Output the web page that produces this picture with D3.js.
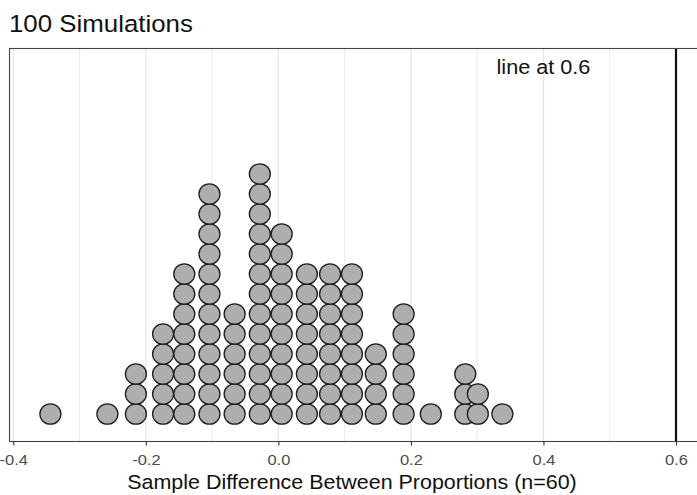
<!DOCTYPE html>
<html>
<head>
<meta charset="utf-8">
<script src="https://cdn.jsdelivr.net/npm/d3@7"></script>
<style>
  html, body { margin: 0; padding: 0; background: #fff; }
  svg { display: block; font-family: "Liberation Sans", Arial, Helvetica, sans-serif; }
</style>
</head>
<body>
<svg id="chart" width="697" height="495"></svg>
<script>
// ---- data ----
const titleText = "100 Simulations";
const xAxisTitle = "Sample Difference Between Proportions (n=60)";
const annotationText = "line at 0.6";
const annotationX = 0.4;
const refLineX = 0.6;
const dotX      = [-0.344, -0.258, -0.215, -0.174, -0.142, -0.104, -0.066, -0.028, 0.005, 0.043, 0.078, 0.111, 0.147, 0.189, 0.230, 0.282, 0.301, 0.338];
const dotCounts = [1, 1, 3, 5, 8, 12, 6, 13, 10, 8, 8, 8, 4, 6, 1, 3, 2, 1];
const xTicks = [-0.4, -0.2, 0.0, 0.2, 0.4, 0.6];
const xTickLabels = ["-0.4", "-0.2", "0.0", "0.2", "0.4", "0.6"];
const xMinorGrid = [-0.3, -0.1, 0.1, 0.3, 0.5, 0.7];

// ---- layout ----
const svg = d3.select("#chart");
const panel = { left: 9.5, top: 48.5, right: 706, bottom: 441.5 };
const sx = 1.1; // horizontal text stretch seen in reference

const x = d3.scaleLinear().domain([-0.4, 0.6]).range([13.3, 676]);
const y = d3.scaleLinear().domain([0, 13]).range([424, 164]);

// panel background
svg.append("rect")
  .attr("x", panel.left).attr("y", panel.top)
  .attr("width", panel.right - panel.left).attr("height", panel.bottom - panel.top)
  .attr("fill", "#fff");

// grid
const g = svg.append("g");
g.selectAll("line.minor").data(xMinorGrid).enter().append("line")
  .attr("x1", d => x(d)).attr("x2", d => x(d))
  .attr("y1", panel.top).attr("y2", panel.bottom)
  .attr("stroke", "#ebebeb").attr("stroke-width", 1);
g.selectAll("line.major").data(xTicks).enter().append("line")
  .attr("x1", d => x(d)).attr("x2", d => x(d))
  .attr("y1", panel.top).attr("y2", panel.bottom)
  .attr("stroke", "#e6e6e6").attr("stroke-width", 1.3);

// dots
const dots = [];
dotX.forEach((v, i) => {
  for (let k = 0; k < dotCounts[i]; k++) dots.push({ x: v, k: k });
});
svg.append("g").selectAll("ellipse").data(dots).enter().append("ellipse")
  .attr("cx", d => x(d.x))
  .attr("cy", d => y(d.k + 0.5))
  .attr("rx", 10.5).attr("ry", 10.2)
  .attr("fill", "#aeaeb1")
  .attr("stroke", "#1e1e1e")
  .attr("stroke-width", 1.3);

// reference line
svg.append("line")
  .attr("x1", x(refLineX)).attr("x2", x(refLineX))
  .attr("y1", panel.top).attr("y2", panel.bottom)
  .attr("stroke", "#111").attr("stroke-width", 2.2);

// annotation
svg.append("text")
  .attr("transform", `translate(${x(annotationX)},74.3) scale(${sx},1)`)
  .attr("text-anchor", "middle")
  .attr("font-size", 19.7)
  .attr("fill", "#111")
  .text(annotationText);

// panel border
svg.append("rect")
  .attr("x", panel.left).attr("y", panel.top)
  .attr("width", panel.right - panel.left).attr("height", panel.bottom - panel.top)
  .attr("fill", "none").attr("stroke", "#444").attr("stroke-width", 1.1);

// x axis ticks & labels
const axis = d3.axisBottom(x).tickValues(xTicks).tickSize(4).tickFormat((d, i) => xTickLabels[i]);
const ax = svg.append("g").attr("transform", `translate(0,${panel.bottom})`).call(axis);
ax.select(".domain").remove();
ax.selectAll(".tick line").attr("stroke", "#333").attr("stroke-width", 1.1);
ax.selectAll(".tick text")
  .attr("y", 0).attr("dy", null)
  .attr("transform", `translate(0,23) scale(${sx},1)`)
  .attr("font-size", 15).attr("fill", "#4d4d4d")
  .attr("font-family", "Liberation Sans, Arial, sans-serif");

// axis title
svg.append("text")
  .attr("transform", `translate(352,488.5) scale(${sx},1)`)
  .attr("text-anchor", "middle")
  .attr("font-size", 19.5)
  .attr("fill", "#111")
  .text(xAxisTitle);

// plot title
svg.append("text")
  .attr("transform", `translate(9,32.3) scale(${sx},1)`)
  .attr("font-size", 23.5)
  .attr("fill", "#111")
  .text(titleText);
</script>
</body>
</html>
